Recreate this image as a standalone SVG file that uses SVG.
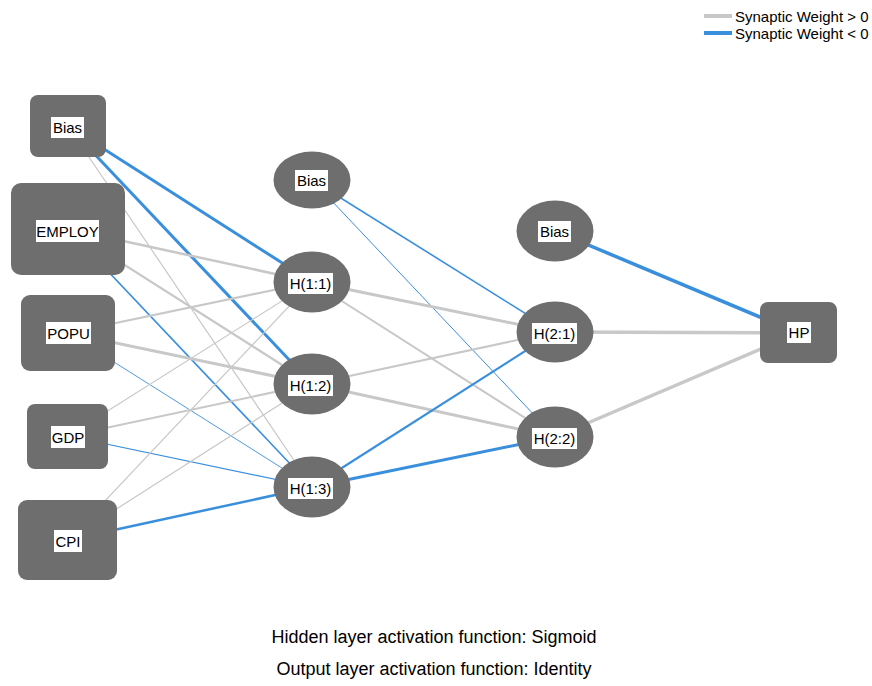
<svg xmlns="http://www.w3.org/2000/svg" width="872" height="686" viewBox="0 0 872 686">
<style>
.node{fill:#6e6e6e}
.lbl{fill:#ffffff}
.t{font-family:"Liberation Sans",Arial,sans-serif;font-size:15px;fill:#000;text-anchor:middle}
.pos{stroke:#c8c8c8;fill:none}
.neg{stroke:#3a8fdc;fill:none}
.leg{font-family:"Liberation Sans",Arial,sans-serif;font-size:15px;fill:#000}
.foot{font-family:"Liberation Sans",Arial,sans-serif;font-size:18px;fill:#000;text-anchor:middle}
</style>
<rect width="872" height="686" fill="#ffffff"/>
<g id="connectors">
<!-- input to H1 -->
<line class="neg" x1="68" y1="126" x2="312" y2="282" stroke-width="3"/>
<line class="neg" x1="68" y1="126" x2="312" y2="384" stroke-width="3"/>
<line class="pos" x1="68" y1="126" x2="312" y2="487" stroke-width="1.2"/>
<line class="pos" x1="68" y1="229" x2="312" y2="282" stroke-width="2.5"/>
<line class="pos" x1="68" y1="229" x2="312" y2="384" stroke-width="2.2"/>
<line class="neg" x1="68" y1="229" x2="312" y2="487" stroke-width="1.6"/>
<line class="pos" x1="68" y1="333" x2="312" y2="282" stroke-width="2.2"/>
<line class="pos" x1="68" y1="333" x2="312" y2="384" stroke-width="3"/>
<line class="neg" x1="68" y1="333" x2="312" y2="487" stroke-width="0.9"/>
<line class="pos" x1="68" y1="436" x2="312" y2="282" stroke-width="1.2"/>
<line class="pos" x1="68" y1="436" x2="312" y2="384" stroke-width="2"/>
<line class="neg" x1="68" y1="436" x2="312" y2="487" stroke-width="1.2"/>
<line class="pos" x1="68" y1="540" x2="312" y2="282" stroke-width="1.2"/>
<line class="pos" x1="68" y1="540" x2="312" y2="384" stroke-width="1.2"/>
<line class="neg" x1="68" y1="540" x2="312" y2="487" stroke-width="2.5"/>
<!-- H1 to H2 -->
<line class="neg" x1="312" y1="180" x2="555" y2="332" stroke-width="1.6"/>
<line class="neg" x1="312" y1="180" x2="555" y2="437" stroke-width="1"/>
<line class="pos" x1="312" y1="282" x2="555" y2="332" stroke-width="3"/>
<line class="pos" x1="312" y1="282" x2="555" y2="437" stroke-width="2"/>
<line class="pos" x1="312" y1="384" x2="555" y2="332" stroke-width="2"/>
<line class="pos" x1="312" y1="384" x2="555" y2="437" stroke-width="3"/>
<line class="neg" x1="312" y1="487" x2="555" y2="332" stroke-width="2.2"/>
<line class="neg" x1="312" y1="487" x2="555" y2="437" stroke-width="3"/>
<!-- H2 to output -->
<line class="neg" x1="555" y1="231" x2="798" y2="333" stroke-width="3.5"/>
<line class="pos" x1="555" y1="332" x2="798" y2="333" stroke-width="3.5"/>
<line class="pos" x1="555" y1="437" x2="798" y2="333" stroke-width="3.5"/>
</g>
<g id="in_bias">
<rect class="node" x="30" y="95" width="76" height="62" rx="8"/>
<rect class="lbl" x="51" y="117" width="33" height="21"/>
<text class="t" x="67.5" y="133">Bias</text>
</g>
<g id="in_employ">
<rect class="node" x="11" y="183" width="114" height="92" rx="10"/>
<rect class="lbl" x="36" y="220" width="63" height="22"/>
<text class="t" x="67.5" y="237">EMPLOY</text>
</g>
<g id="in_popu">
<rect class="node" x="21" y="295" width="94" height="76" rx="9"/>
<rect class="lbl" x="46" y="322" width="45" height="22"/>
<text class="t" x="68.5" y="339">POPU</text>
</g>
<g id="in_gdp">
<rect class="node" x="27" y="404" width="81" height="65" rx="8"/>
<rect class="lbl" x="51" y="426" width="34" height="22"/>
<text class="t" x="68" y="443">GDP</text>
</g>
<g id="in_cpi">
<rect class="node" x="18" y="500" width="99" height="80" rx="9"/>
<rect class="lbl" x="54" y="530" width="28" height="22"/>
<text class="t" x="68" y="547">CPI</text>
</g>
<g id="h1_bias">
<ellipse class="node" cx="312" cy="180" rx="38.5" ry="28.5"/>
<rect class="lbl" x="295" y="170" width="33" height="21"/>
<text class="t" x="311.5" y="186">Bias</text>
</g>
<g id="h1_1">
<ellipse class="node" cx="312" cy="282" rx="38.5" ry="30.5"/>
<rect class="lbl" x="288" y="273" width="45" height="21"/>
<text class="t" x="310.5" y="289">H(1:1)</text>
</g>
<g id="h1_2">
<ellipse class="node" cx="312" cy="384" rx="38.5" ry="30.5"/>
<rect class="lbl" x="288" y="375" width="45" height="21"/>
<text class="t" x="310.5" y="391">H(1:2)</text>
</g>
<g id="h1_3">
<ellipse class="node" cx="312" cy="487" rx="38.5" ry="30.5"/>
<rect class="lbl" x="288" y="478" width="45" height="21"/>
<text class="t" x="310.5" y="494">H(1:3)</text>
</g>
<g id="h2_bias">
<ellipse class="node" cx="555" cy="231" rx="38.5" ry="30.5"/>
<rect class="lbl" x="538" y="221" width="33" height="21"/>
<text class="t" x="554.5" y="237">Bias</text>
</g>
<g id="h2_1">
<ellipse class="node" cx="555" cy="332" rx="38.5" ry="30.5"/>
<rect class="lbl" x="532" y="323" width="45" height="21"/>
<text class="t" x="554.5" y="339">H(2:1)</text>
</g>
<g id="h2_2">
<ellipse class="node" cx="555" cy="437" rx="38.5" ry="30.5"/>
<rect class="lbl" x="532" y="428" width="45" height="21"/>
<text class="t" x="554.5" y="444">H(2:2)</text>
</g>
<g id="out_hp">
<rect class="node" x="760" y="302" width="77" height="61" rx="8"/>
<rect class="lbl" x="787" y="322" width="24" height="21"/>
<text class="t" x="799" y="338">HP</text>
</g>
<g id="legend">
<line class="pos" x1="704" y1="16" x2="732" y2="16" stroke-width="4"/>
<text class="leg" x="735" y="22">Synaptic Weight &gt; 0</text>
<line class="neg" x1="704" y1="33" x2="732" y2="33" stroke-width="4"/>
<text class="leg" x="735" y="39">Synaptic Weight &lt; 0</text>
</g>
<text class="foot" x="434" y="643">Hidden layer activation function: Sigmoid</text>
<text class="foot" x="434" y="675">Output layer activation function: Identity</text>
</svg>
